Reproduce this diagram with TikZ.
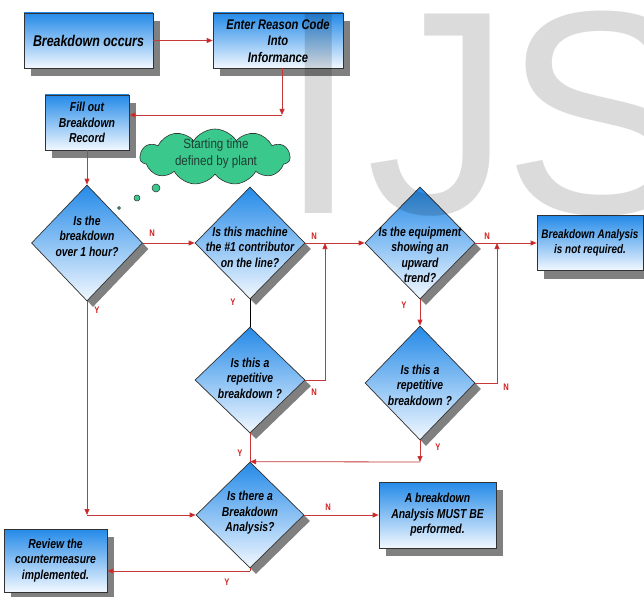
\documentclass[tikz,border=0pt]{standalone}
\usepackage{fontspec}
\setmainfont{Liberation Sans}[FakeStretch=0.8]
\newfontfamily\wmfont{Liberation Sans}
\newfontfamily\cloudfont{Liberation Sans}[FakeStretch=0.86]
\usetikzlibrary{arrows.meta,shapes.geometric,shapes.symbols,shadows}

\definecolor{boxtop}{RGB}{36,138,232}
\definecolor{boxbot}{RGB}{242,248,255}
\definecolor{edge}{RGB}{50,50,50}
\definecolor{shade}{RGB}{128,128,128}
\definecolor{linkred}{RGB}{200,55,55}
\definecolor{tickred}{RGB}{210,30,30}
\definecolor{cloudfill}{RGB}{58,200,140}
\definecolor{cloudtext}{RGB}{30,60,50}

\begin{document}
\begin{tikzpicture}[x=1pt,y=-1pt,
  lbl/.style={font=\fontsize{13}{15.5}\selectfont\bfseries\itshape, align=center, text=black},
  big/.style={font=\fontsize{15.5}{16}\selectfont\bfseries\itshape},
  mid/.style={font=\fontsize{14}{16.5}\selectfont\bfseries\itshape},
  small/.style={font=\fontsize{12.4}{15.5}\selectfont\bfseries\itshape},
  boxnode/.style={rectangle, draw=edge, line width=0.7pt, top color=boxtop, bottom color=boxbot,
    inner sep=2pt, lbl,
    drop shadow={shadow xshift=7pt, shadow yshift=-8pt, fill=shade, opacity=1}},
  dia/.style={diamond, draw=edge, line width=0.7pt, top color=boxtop, bottom color=boxbot,
    inner sep=0pt,
    drop shadow={shadow xshift=6pt, shadow yshift=-6pt, fill=shade, opacity=1}},
  link/.style={draw=linkred, line width=0.8pt},
  arr/.style={link, -{Triangle[length=6pt,width=5pt,fill=tickred]}},
  yn/.style={font=\fontsize{9.5}{9.5}\selectfont\bfseries, text=tickred, inner sep=0pt},
  bubble/.style={circle, draw=edge, line width=0.5pt, fill=cloudfill, inner sep=0pt},
  wm/.style={anchor=base west, inner sep=0pt, font=\wmfont\fontsize{290}{290}\selectfont,
    text=black, text opacity=0.14},
]
% page and background
\path[use as bounding box, fill=white] (0,0) rectangle (644,596);

% process boxes
\node[boxnode, big, minimum width=129, minimum height=55] (b1) at (88.5,40.5) {Breakdown occurs};
\node[boxnode, mid, minimum width=130, minimum height=55] (b2) at (278,40.5) {Enter Reason Code\\Into\\Informance};
\node[boxnode, minimum width=84, minimum height=55] (b3) at (87,122.5) {Fill out\\Breakdown\\Record};
\node[boxnode, small, minimum width=106, minimum height=55] (b4) at (590,243) {Breakdown Analysis\\is not required.};
\node[boxnode, minimum width=117, minimum height=66] (b5) at (437.5,515) {A breakdown\\Analysis MUST BE\\performed.};
\node[boxnode, minimum width=103, minimum height=63] (b6) at (55.5,560.5) {Review the\\countermeasure\\implemented.};

% decision diamonds
\node[dia, minimum width=111, minimum height=116] (d1) at (87,243) {};
\node[dia, minimum width=110, minimum height=112] (d2) at (250,243) {};
\node[dia, minimum width=110, minimum height=112] (d3) at (420,243) {};
\node[dia, minimum width=110, minimum height=106] (dA) at (250,380) {};
\node[dia, minimum width=110, minimum height=114] (dB) at (420,383) {};
\node[dia, minimum width=108, minimum height=106] (dC) at (250,515) {};

\node[lbl] (d1t) at (87,236) {Is the\\breakdown\\over 1 hour?};
\node[lbl] (d2t) at (250,247) {Is this machine\\the \#1 contributor\\on the line?};
\node[lbl] (d3t) at (420,255) {Is the equipment\\showing an\\upward\\trend?};
\node[lbl] (dAt) at (250,378) {Is this a\\repetitive\\breakdown ?};
\node[lbl] (dBt) at (420,385) {Is this a\\repetitive\\breakdown ?};
\node[lbl] (dCt) at (250,513) {Is there a\\Breakdown\\Analysis?};

% thought cloud
\node[cloud, cloud puffs=11, cloud puff arc=115, cloud ignores aspect, draw=edge, line width=0.6pt,
  fill=cloudfill, minimum width=150, minimum height=56, inner sep=0pt] (cl) at (215,157) {};
\node[font=\cloudfont\fontsize{13.5}{17}\selectfont, text=cloudtext, align=center] (clt) at (216,154)
  {Starting time\\defined by plant};
\node[bubble, minimum size=8] (bub1) at (156,188) {};
\node[bubble, minimum size=6] (bub2) at (137,198) {};
\node[bubble, minimum size=3] (bub3) at (119,208) {};

% connectors
\coordinate (c1) at (282,115);
\coordinate (jA) at (325,243);
\coordinate (jB) at (497,243);
\coordinate (jC) at (420,462);
\coordinate (jD) at (87,515);
\coordinate (jE) at (250,571);

\draw[arr] (b1.east) -- (b2.west);
\draw[arr] (b2.south -| c1) -- (c1);
\draw[arr] (c1) -- (c1 -| b3.east);
\draw[arr] (b3.south) -- (d1.north);
\draw[arr] (d1.east) -- (d2.west);
\draw[arr] (d2.east) -- (d3.west);
\draw[arr] (d3.east) -- (b4.west);
\draw[line width=0.8pt, draw=black] (d2.south) -- (dA.north);
\draw[arr] (dA.east) -| (jA);
\draw[arr] (d3.south) -- (dB.north);
\draw[arr] (dB.east) -| (jB);
\draw[arr] (dB.south) -- (jC);
\draw[arr] (jC) -- (dC.north);
\draw[link] (dA.south) -- (dC.north);
\draw[arr] (d1.south) -- (jD);
\draw[arr] (jD) -- (dC.west);
\draw[arr] (dC.east) -- (b5.west);
\draw[link] (dC.south) -- (jE);
\draw[arr] (jE) -- (jE -| b6.east);

% branch letters
\node[yn] (n1) at (152,233) {N};
\node[yn] (n2) at (314,236) {N};
\node[yn] (n3) at (487,236) {N};
\node[yn] (n4) at (314,392) {N};
\node[yn] (n5) at (506,387) {N};
\node[yn] (n6) at (328,507) {N};
\node[yn] (y1) at (97,310) {Y};
\node[yn] (y2) at (233,302) {Y};
\node[yn] (y3) at (404,305) {Y};
\node[yn] (y4) at (240,453) {Y};
\node[yn] (y5) at (438,447) {Y};
\node[yn] (y6) at (227,582) {Y};

% watermark lettering
\node[wm] (wmI) at (278,213) {I};
\node[wm] (wmJ) at (366,213) {J};
\node[wm] (wmS) at (503,213) {S};
\end{tikzpicture}
\end{document}
